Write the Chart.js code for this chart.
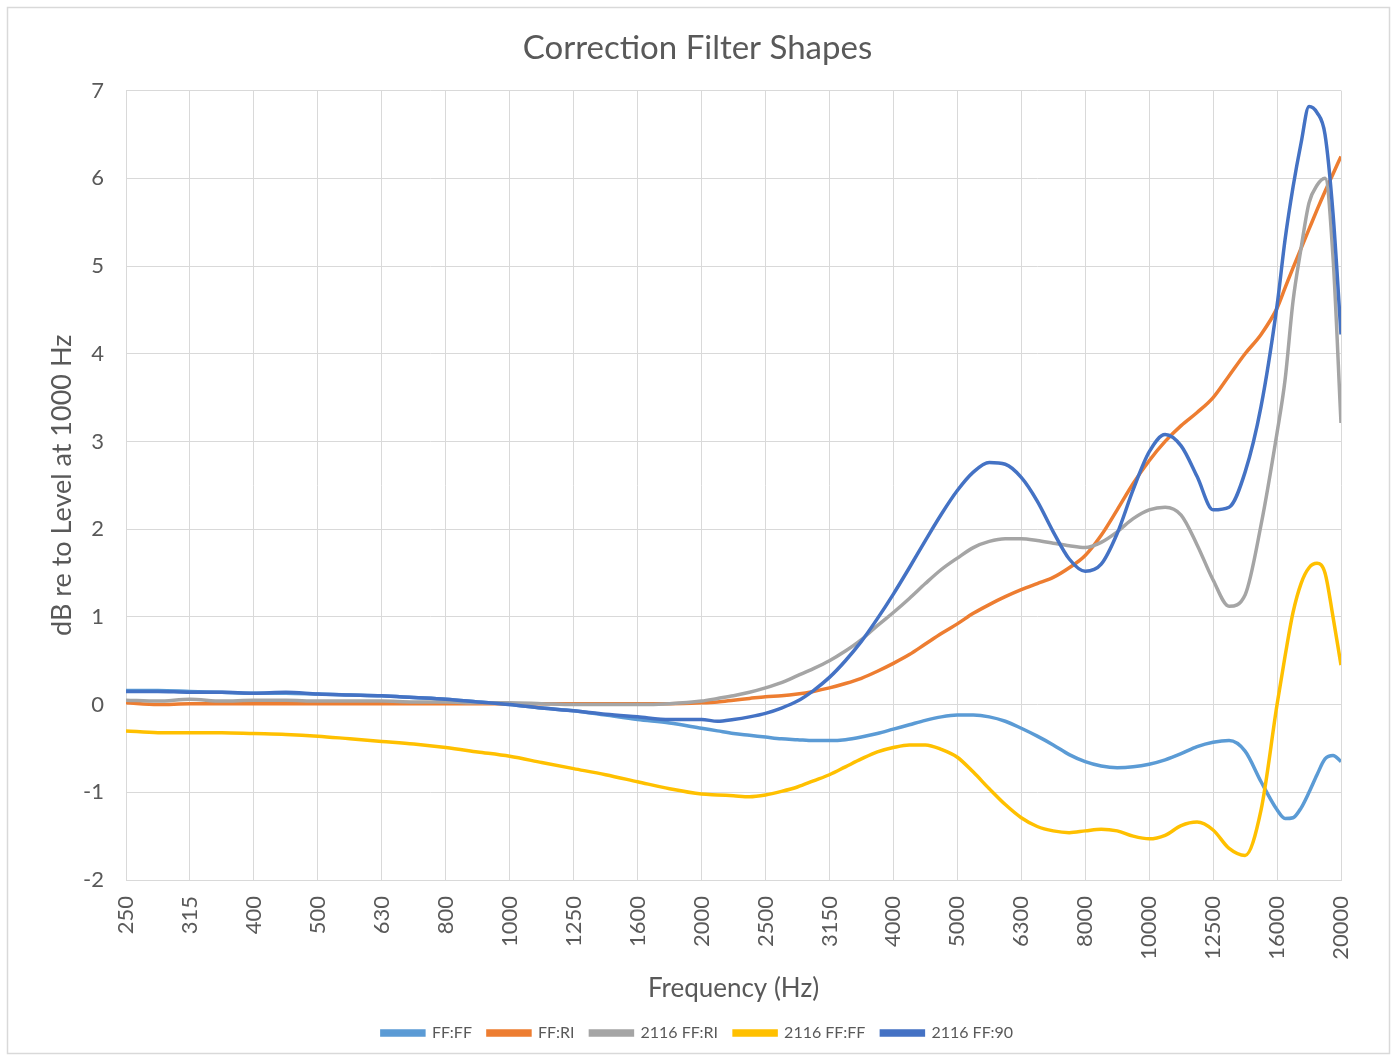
<!DOCTYPE html>
<html>
<head>
<meta charset="utf-8">
<script src="https://cdn.jsdelivr.net/npm/chart.js@4.4.1/dist/chart.umd.min.js"></script>
<style>
  html, body { margin: 0; padding: 0; background: #fff; }
  #wrap { width: 1395px; height: 1060px; }
</style>
</head>
<body>
<div id="wrap"><canvas id="filterChart" width="1395" height="1060"></canvas></div>
<script>
// third-octave band labels along the bottom
var bandLabels = ['250', '315', '400', '500', '630', '800', '1000', '1250', '1600', '2000',
  '2500', '3150', '4000', '5000', '6300', '8000', '10000', '12500', '16000', '20000'];

// sample positions, in bands from 250 Hz
var bandPos = [0, 0.5, 1, 1.5, 2, 2.5, 3, 3.5, 4, 4.5, 5, 5.5, 6, 6.5, 7, 7.5, 8, 8.5, 9,
  9.25, 9.5, 9.75, 10, 10.25, 10.5, 10.75, 11, 11.25, 11.5, 11.75, 12, 12.25, 12.5, 12.75,
  13, 13.25, 13.5, 13.75, 14, 14.25, 14.5, 14.75, 15, 15.25, 15.5, 15.75, 16, 16.25, 16.5, 16.75,
  17, 17.25, 17.5, 17.75, 18, 18.125, 18.25, 18.375, 18.5, 18.625, 18.75, 18.875, 19];

var ffFF = [0.16, 0.16, 0.15, 0.14, 0.13, 0.13, 0.12, 0.11, 0.10, 0.08, 0.06, 0.03, 0.0, -0.04, -0.07, -0.12, -0.17, -0.21, -0.27,
  -0.30, -0.33, -0.35, -0.37, -0.39, -0.40, -0.41, -0.41, -0.40, -0.37, -0.33, -0.28, -0.23, -0.18, -0.14,
  -0.12, -0.12, -0.14, -0.19, -0.27, -0.36, -0.46, -0.57, -0.65, -0.70, -0.72, -0.71, -0.68, -0.63, -0.56, -0.48,
  -0.43, -0.41, -0.53, -0.88, -1.20, -1.30, -1.29, -1.18, -1.00, -0.80, -0.62, -0.58, -0.65];

var ffRI = [0.02, 0.0, 0.01, 0.01, 0.01, 0.01, 0.01, 0.01, 0.01, 0.01, 0.01, 0.01, 0.01, 0.01, 0.01, 0.01, 0.01, 0.01, 0.02,
  0.03, 0.05, 0.07, 0.09, 0.10, 0.12, 0.15, 0.19, 0.24, 0.30, 0.38, 0.47, 0.57, 0.69, 0.81,
  0.92, 1.04, 1.14, 1.23, 1.31, 1.38, 1.45, 1.56, 1.70, 1.93, 2.22, 2.52, 2.78, 3.00, 3.18, 3.33,
  3.50, 3.75, 4.00, 4.22, 4.52, 4.75, 4.98, 5.20, 5.42, 5.64, 5.85, 6.05, 6.25];

var m2116RI = [0.05, 0.04, 0.06, 0.04, 0.05, 0.05, 0.04, 0.04, 0.04, 0.03, 0.03, 0.02, 0.02, 0.01, 0.0, 0.0, 0.0, 0.01, 0.04,
  0.07, 0.10, 0.14, 0.19, 0.25, 0.33, 0.41, 0.50, 0.61, 0.74, 0.90, 1.05, 1.21, 1.38, 1.54,
  1.67, 1.79, 1.86, 1.89, 1.89, 1.87, 1.84, 1.81, 1.79, 1.85, 1.97, 2.12, 2.22, 2.25, 2.16, 1.82,
  1.42, 1.12, 1.25, 2.05, 3.10, 3.70, 4.60, 5.20, 5.72, 5.92, 6.00, 5.10, 3.21];

var m2116FF = [-0.30, -0.32, -0.32, -0.32, -0.33, -0.34, -0.36, -0.39, -0.42, -0.45, -0.49, -0.54, -0.59, -0.66, -0.73, -0.80, -0.88, -0.96, -1.02,
  -1.03, -1.04, -1.05, -1.03, -0.99, -0.94, -0.87, -0.80, -0.71, -0.62, -0.54, -0.49, -0.46, -0.46, -0.51,
  -0.60, -0.77, -0.96, -1.14, -1.29, -1.39, -1.44, -1.46, -1.44, -1.42, -1.44, -1.50, -1.53, -1.49, -1.38, -1.34,
  -1.43, -1.64, -1.72, -1.20, 0.0, 0.55, 1.05, 1.38, 1.56, 1.61, 1.50, 1.00, 0.45];

var m2116_90 = [0.15, 0.15, 0.14, 0.14, 0.13, 0.14, 0.12, 0.11, 0.10, 0.08, 0.06, 0.03, 0.0, -0.04, -0.07, -0.11, -0.14, -0.17, -0.17,
  -0.19, -0.17, -0.14, -0.10, -0.04, 0.04, 0.16, 0.31, 0.50, 0.72, 0.98, 1.26, 1.56, 1.87, 2.17,
  2.44, 2.65, 2.76, 2.74, 2.59, 2.32, 1.97, 1.66, 1.52, 1.60, 1.95, 2.45, 2.88, 3.08, 2.95, 2.60,
  2.22, 2.25, 2.65, 3.40, 4.55, 5.30, 5.90, 6.40, 6.82, 6.75, 6.50, 5.60, 4.22];

var yTicks = [-2, -1, 0, 1, 2, 3, 4, 5, 6, 7];

var textColor = '#595959';
var gridColor = '#d9d9d9';
var fontFamily = 'Lato, "Open Sans", sans-serif';

function pts(vals) {
  return vals.map(function (v, i) { return { x: bandPos[i], y: v }; });
}

function series(label, vals, color, order) {
  return {
    label: label,
    data: pts(vals),
    borderColor: color,
    backgroundColor: color,
    borderWidth: 3.5,
    pointRadius: 0,
    cubicInterpolationMode: 'monotone',
    order: order
  };
}

// white page with a thin frame round the whole chart
var frame = {
  id: 'frame',
  beforeDraw: function (chart) {
    var ctx = chart.ctx;
    ctx.save();
    ctx.fillStyle = '#ffffff';
    ctx.fillRect(0, 0, chart.width, chart.height);
    ctx.strokeStyle = gridColor;
    ctx.lineWidth = 1.5;
    ctx.strokeRect(7.5, 7.5, 1382, 1046);
    ctx.restore();
  }
};

new Chart(document.getElementById('filterChart'), {
  type: 'line',
  data: {
    datasets: [
      series('FF:FF', ffFF, '#5B9BD5', 5),
      series('FF:RI', ffRI, '#ED7D31', 4),
      series('2116 FF:RI', m2116RI, '#A5A5A5', 3),
      series('2116 FF:FF', m2116FF, '#FFC000', 2),
      series('2116 FF:90', m2116_90, '#4472C4', 1)
    ]
  },
  plugins: [frame],
  options: {
    responsive: false,
    animation: false,
    layout: { padding: { top: 0, left: 0, right: 0, bottom: 9 } },
    plugins: {
      title: {
        display: true,
        text: 'Correction Filter Shapes',
        color: textColor,
        font: { family: fontFamily, size: 33, weight: 'normal' },
        padding: { top: 29, bottom: 22 }
      },
      legend: {
        position: 'bottom',
        labels: {
          color: textColor,
          font: { family: fontFamily, size: 16 },
          boxWidth: 42,
          boxHeight: 4,
          padding: 16,
          sort: function (a, b) { return a.datasetIndex - b.datasetIndex; }
        }
      },
      tooltip: { enabled: false }
    },
    scales: {
      x: {
        type: 'linear',
        min: 0,
        max: bandLabels.length - 1,
        afterFit: function (scale) { scale.height = 129; },
        afterBuildTicks: function (scale) {
          scale.ticks = bandLabels.map(function (l, i) { return { value: i }; });
        },
        ticks: {
          color: textColor,
          font: { family: fontFamily, size: 22 },
          autoSkip: false,
          minRotation: 90,
          maxRotation: 90,
          padding: 16,
          callback: function (v) { return bandLabels[v]; }
        },
        grid: { color: gridColor, lineWidth: 1, drawTicks: false },
        border: { color: gridColor, width: 1 },
        title: {
          display: true,
          text: 'Frequency (Hz)',
          color: textColor,
          font: { family: fontFamily, size: 26 },
          padding: { top: 0, bottom: 5 }
        }
      },
      y: {
        min: -2,
        max: 7,
        afterFit: function (scale) { scale.width = 126; },
        afterBuildTicks: function (scale) {
          scale.ticks = yTicks.map(function (v) { return { value: v }; });
        },
        ticks: {
          color: textColor,
          font: { family: fontFamily, size: 22 },
          padding: 22
        },
        grid: { color: gridColor, lineWidth: 1, drawTicks: false },
        border: { color: gridColor, width: 1 },
        title: {
          display: true,
          text: 'dB re to Level at 1000 Hz',
          color: textColor,
          font: { family: fontFamily, size: 27 },
          padding: { top: 46, bottom: 0 }
        }
      },
      // empty margin on the right so the plot ends short of the frame
      yRight: {
        position: 'right',
        min: -2,
        max: 7,
        afterFit: function (scale) { scale.width = 54; },
        ticks: { display: false },
        grid: { display: false, drawTicks: false },
        border: { display: false }
      }
    }
  }
});
</script>
</body>
</html>
